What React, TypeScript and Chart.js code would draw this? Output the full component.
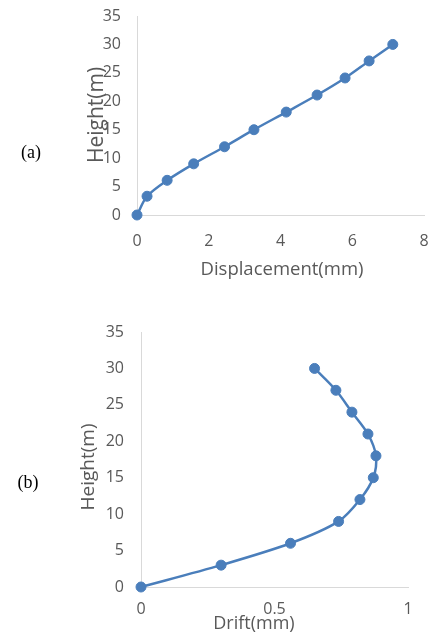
import React, { useEffect, useRef } from "react";
import { Chart, registerables } from "chart.js";

Chart.register(...registerables);

// Chart (a): height vs displacement
const heightsA = [0, 3.3, 6.1, 9, 12, 15, 18.1, 21.1, 24.1, 27.1, 30];
const displacementA = [0, 0.28, 0.84, 1.58, 2.44, 3.26, 4.16, 5.02, 5.8, 6.47, 7.13];
// Chart (b): height vs drift
const heightsB = [0, 3, 6, 9, 12, 15, 18, 21, 24, 27, 30];
const driftB = [0, 0.3, 0.56, 0.74, 0.82, 0.87, 0.88, 0.85, 0.79, 0.73, 0.65];

const BLUE = "#4A7EBB";
const TICK_COLOR = "#595959";
const AXIS_COLOR = "#D9D9D9";
const FONT = "'Open Sans', sans-serif";

type Cfg = {
  xs: number[];
  ys: number[];
  xMax: number;
  xStep: number;
  yWidth: number;
  xHeight: number;
  padTop: number;
  padRight: number;
  xTickPad: number;
  yTickPad: number;
};

const zeroPad = (s: any) => {
  s.paddingLeft = 0;
  s.paddingRight = 0;
  s.paddingTop = 0;
  s.paddingBottom = 0;
};

function LineChart({ cfg, width, height }: { cfg: Cfg; width: number; height: number }) {
  const ref = useRef<HTMLCanvasElement | null>(null);
  useEffect(() => {
    if (!ref.current) return;
    const data = cfg.xs.map((x, i) => ({ x, y: cfg.ys[i] }));
    const chart = new Chart(ref.current, {
      type: "line",
      data: {
        datasets: [
          {
            data,
            borderColor: BLUE,
            backgroundColor: BLUE,
            borderWidth: 2.5,
            pointRadius: 5,
            pointBorderWidth: 1,
            pointBackgroundColor: BLUE,
            pointBorderColor: BLUE,
            tension: 0.3,
            fill: false,
            clip: false,
          } as any,
        ],
      },
      options: {
        animation: false,
        responsive: false,
        devicePixelRatio: 1,
        layout: { padding: { top: cfg.padTop, right: cfg.padRight, left: 0, bottom: 0 } },
        plugins: { legend: { display: false }, tooltip: { enabled: false } },
        scales: {
          x: {
            type: "linear",
            min: 0,
            max: cfg.xMax,
            grid: { display: false, drawTicks: false },
            border: { display: true, color: AXIS_COLOR, width: 1 },
            ticks: {
              stepSize: cfg.xStep,
              color: TICK_COLOR,
              font: { family: FONT, size: 16 },
              padding: cfg.xTickPad,
              maxRotation: 0,
              callback: (v: any) => `${v}`,
            },
            afterFit: (s: any) => {
              s.height = cfg.xHeight;
              zeroPad(s);
            },
          },
          y: {
            type: "linear",
            min: 0,
            max: 35,
            grid: { display: false, drawTicks: false },
            border: { display: true, color: AXIS_COLOR, width: 1 },
            ticks: {
              stepSize: 5,
              color: TICK_COLOR,
              font: { family: FONT, size: 16 },
              padding: cfg.yTickPad,
              callback: (v: any) => `${v}`,
            },
            afterFit: (s: any) => {
              s.width = cfg.yWidth;
              zeroPad(s);
            },
          },
        },
      },
    });
    return () => chart.destroy();
  }, []);
  return <canvas ref={ref} width={width} height={height} style={{ display: "block" }} />;
}

const abs = (left: number, top: number, extra: any = {}) => ({
  position: "absolute" as const,
  left,
  top,
  whiteSpace: "nowrap" as const,
  lineHeight: 1,
  ...extra,
});

export default function App() {
  const cfgA: Cfg = {
    xs: displacementA,
    ys: heightsA,
    xMax: 8,
    xStep: 2,
    yWidth: 137,
    xHeight: 85,
    padTop: 16,
    padRight: 4,
    xTickPad: 17,
    yTickPad: 16,
  };
  const cfgB: Cfg = {
    xs: driftB,
    ys: heightsB,
    xMax: 1,
    xStep: 0.5,
    yWidth: 141,
    xHeight: 45,
    padTop: 32,
    padRight: 22,
    xTickPad: 13,
    yTickPad: 17,
  };
  const axisTitle = { color: TICK_COLOR, fontFamily: FONT };
  const tag = { color: "#000", fontFamily: "'Liberation Serif', 'DejaVu Serif', serif", fontSize: 18 };
  return (
    <div style={{ position: "fixed", left: 0, top: 0, width: 430, height: 632, background: "#fff", overflow: "hidden" }}>
      <div style={abs(0, 0)}>
        <LineChart cfg={cfgA} width={430} height={300} />
      </div>
      <div style={abs(0, 300)}>
        <LineChart cfg={cfgB} width={430} height={332} />
      </div>
      <div style={abs(282, 268, { ...axisTitle, fontSize: 18.5, transform: "translate(-50%,-50%)" })}>Displacement(mm)</div>
      <div style={abs(95, 115, { ...axisTitle, fontSize: 21, transform: "translate(-50%,-50%) rotate(-90deg)" })}>Height(m)</div>
      <div style={abs(254, 622, { ...axisTitle, fontSize: 18, transform: "translate(-50%,-50%)" })}>Drift(mm)</div>
      <div style={abs(87, 467, { ...axisTitle, fontSize: 19, transform: "translate(-50%,-50%) rotate(-90deg)" })}>Height(m)</div>
      <div style={abs(31, 152, { ...tag, transform: "translate(-50%,-50%)" })}>(a)</div>
      <div style={abs(28, 482, { ...tag, transform: "translate(-50%,-50%)" })}>(b)</div>
    </div>
  );
}
